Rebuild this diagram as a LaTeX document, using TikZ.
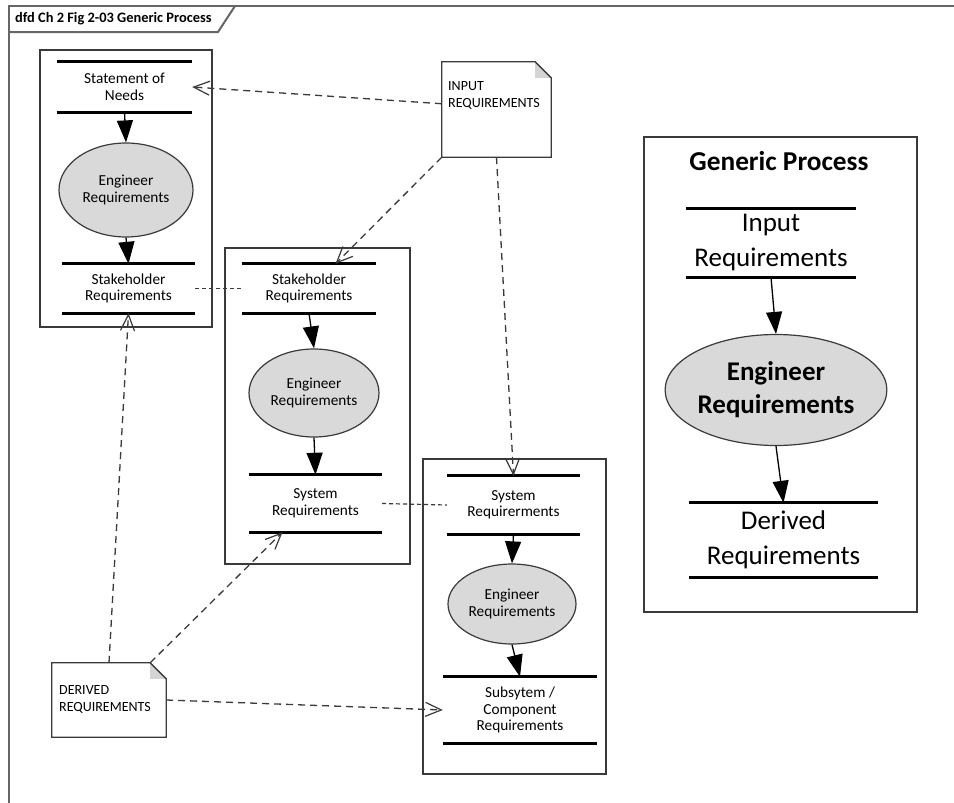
\documentclass[tikz,border=0pt]{standalone}
\usepackage{fontspec}
\setmainfont{Carlito}
\usetikzlibrary{arrows.meta,shapes.geometric,calc}

\newcommand\smtxt{\fontsize{15.3}{16.5}\selectfont}
\newcommand\notetxt{\fontsize{14}{16.5}\selectfont}
\newcommand\bigtxt{\fontsize{27}{35}\selectfont}
\newcommand\bigbold{\fontsize{27}{33}\selectfont\bfseries}

\definecolor{framegray}{HTML}{666666}
\definecolor{edgegray}{HTML}{3A3A3A}
\definecolor{procfill}{HTML}{D9D9D9}
\definecolor{foldfill}{HTML}{D4D4D4}

\begin{document}
\begin{tikzpicture}[x=1pt,y=-1pt,
  frameline/.style={draw=framegray,line width=2pt},
  boxframe/.style={draw=edgegray,line width=1.3pt,rectangle,inner sep=0pt},
  store/.style={rectangle,inner sep=0pt,align=center,font=\smtxt},
  storeline/.style={line width=3pt,black},
  proc/.style={ellipse,draw=edgegray,fill=procfill,line width=1.2pt,inner sep=0pt,align=center,font=\smtxt},
  flow/.style={-{Triangle[length=22pt,width=16pt]},line width=1.3pt,black},
  dep/.style={dash pattern=on 7pt off 5pt,line width=1.3pt,draw=edgegray,
    -{Straight Barb[length=16pt,width=14pt,line width=1.2pt]}},
  link/.style={dash pattern=on 4pt off 3pt,line width=1.2pt,draw=edgegray},
  notebox/.style={rectangle,inner sep=0pt},
  noteline/.style={draw=edgegray,line width=1.3pt},
  notetext/.style={anchor=west,align=left,inner sep=0pt,font=\notetxt}]

\useasboundingbox (0,0) rectangle (954,803);
\fill[white] (0,0) rectangle (954,803);

% diagram frame and its name tab
\draw[frameline] (9,803) -- (9,6) -- (954,6);
\draw[frameline] (9,32) -- (218,32) -- (235,6);
\node[anchor=west,inner sep=0pt,font=\fontsize{14.4}{16}\selectfont\bfseries] (title) at (15,19) {dfd Ch 2 Fig 2-03 Generic Process};

% process boxes
\node[boxframe,minimum width=172pt,minimum height=277pt] (b1) at (126,188.5) {};
\node[boxframe,minimum width=185pt,minimum height=316pt] (b2) at (317.5,406) {};
\node[boxframe,minimum width=183pt,minimum height=315pt] (b3) at (514.5,616.5) {};
\node[boxframe,minimum width=273pt,minimum height=475pt] (b4) at (780.5,374.5) {};

% first process
\node[store,minimum width=135pt,minimum height=50pt] (s1a) at (124.5,87) {Statement of\\Needs};
\node[proc,minimum width=134pt,minimum height=94pt] (e1) at (126,190) {Engineer\\Requirements};
\node[store,minimum width=133pt,minimum height=49pt] (s1b) at (128.5,288.5) {Stakeholder\\Requirements};

% second process
\node[store,minimum width=134pt,minimum height=49pt] (s2a) at (309,288.5) {Stakeholder\\Requirements};
\node[proc,minimum width=130pt,minimum height=88pt] (e2) at (314,393) {Engineer\\Requirements};
\node[store,minimum width=133pt,minimum height=57pt] (s2b) at (315.5,503.5) {System\\Requirements};

% third process
\node[store,minimum width=133pt,minimum height=58pt] (s3a) at (513.5,505) {System\\Requirerments};
\node[proc,minimum width=128pt,minimum height=80pt] (e3) at (512,604) {Engineer\\Requirements};
\node[store,minimum width=154pt,minimum height=66pt] (s3b) at (520,710) {Subsytem /\\Component\\Requirements};

% generic process legend
\node[inner sep=0pt,font=\fontsize{27.3}{30}\selectfont\bfseries] (gp) at (779,161) {Generic Process};
\node[store,font=\bigtxt,minimum width=170pt,minimum height=68pt] (s4a) at (771,243) {Input\\Requirements};
\node[proc,font=\bigbold,minimum width=192pt,minimum height=111pt] (e4) at (776,390) {Engineer\\Requirements};
\node[store,font=\bigtxt,minimum width=189pt,minimum height=74pt] (s4b) at (783.5,540) {Derived\\Requirements};

% store bars
\foreach \s in {s1a,s1b,s2a,s2b,s3a,s3b,s4a,s4b}{
  \draw[storeline] (\s.north west) -- (\s.north east);
  \draw[storeline] (\s.south west) -- (\s.south east);
}

% data flows inside each process
\draw[flow] (s1a.south) -- (e1.north);
\draw[flow] (e1.south) -- (s1b.north);
\draw[flow] (s2a.south) -- (e2.north);
\draw[flow] (e2.south) -- (s2b.north);
\draw[flow] (s3a.south) -- (e3.north);
\draw[flow] (e3.south) -- (s3b.north);
\draw[flow] (s4a.south) -- (e4.north);
\draw[flow] (e4.south) -- (s4b.north);

% notes
\node[notebox,minimum width=109pt,minimum height=95pt] (in1) at (496.5,109.5) {};
\node[notebox,minimum width=114pt,minimum height=74pt] (dn) at (109,700) {};
\foreach \n in {in1,dn}{
  \fill[white] (\n.north west) -- ([xshift=-16pt]\n.north east) -- ([yshift=-16pt]\n.north east)
    -- (\n.south east) -- (\n.south west) -- cycle;
  \fill[foldfill] ([xshift=-16pt]\n.north east) -- ([yshift=-16pt]\n.north east)
    -- ([xshift=-16pt,yshift=-16pt]\n.north east) -- cycle;
  \draw[noteline] (\n.north west) -- ([xshift=-16pt]\n.north east) -- ([yshift=-16pt]\n.north east)
    -- (\n.south east) -- (\n.south west) -- cycle;
}
\node[notetext] (in1t) at (448,95.5) {INPUT\\REQUIREMENTS};
\node[notetext] (dnt) at (59,699.5) {DERIVED\\REQUIREMENTS};
\coordinate (dnfold) at ([xshift=-16pt]dn.north east);

% dependencies
\draw[dep] (in1.174) -- (s1a.east);
\draw[dep] (in1.south west) -- (s2a.43);
\draw[dep] (in1.south) -- (s3a.north);
\draw[dep] (dn.north) -- (s1b.south);
\draw[dep] (dnfold) -- (s2b.221);
\draw[dep] (dn.east) -- (s3b.west);

% links between matching stores
\draw[link] (s1b.east) -- (s2a.west);
\draw[link] (s2b.east) -- (s3a.west);

\end{tikzpicture}
\end{document}
